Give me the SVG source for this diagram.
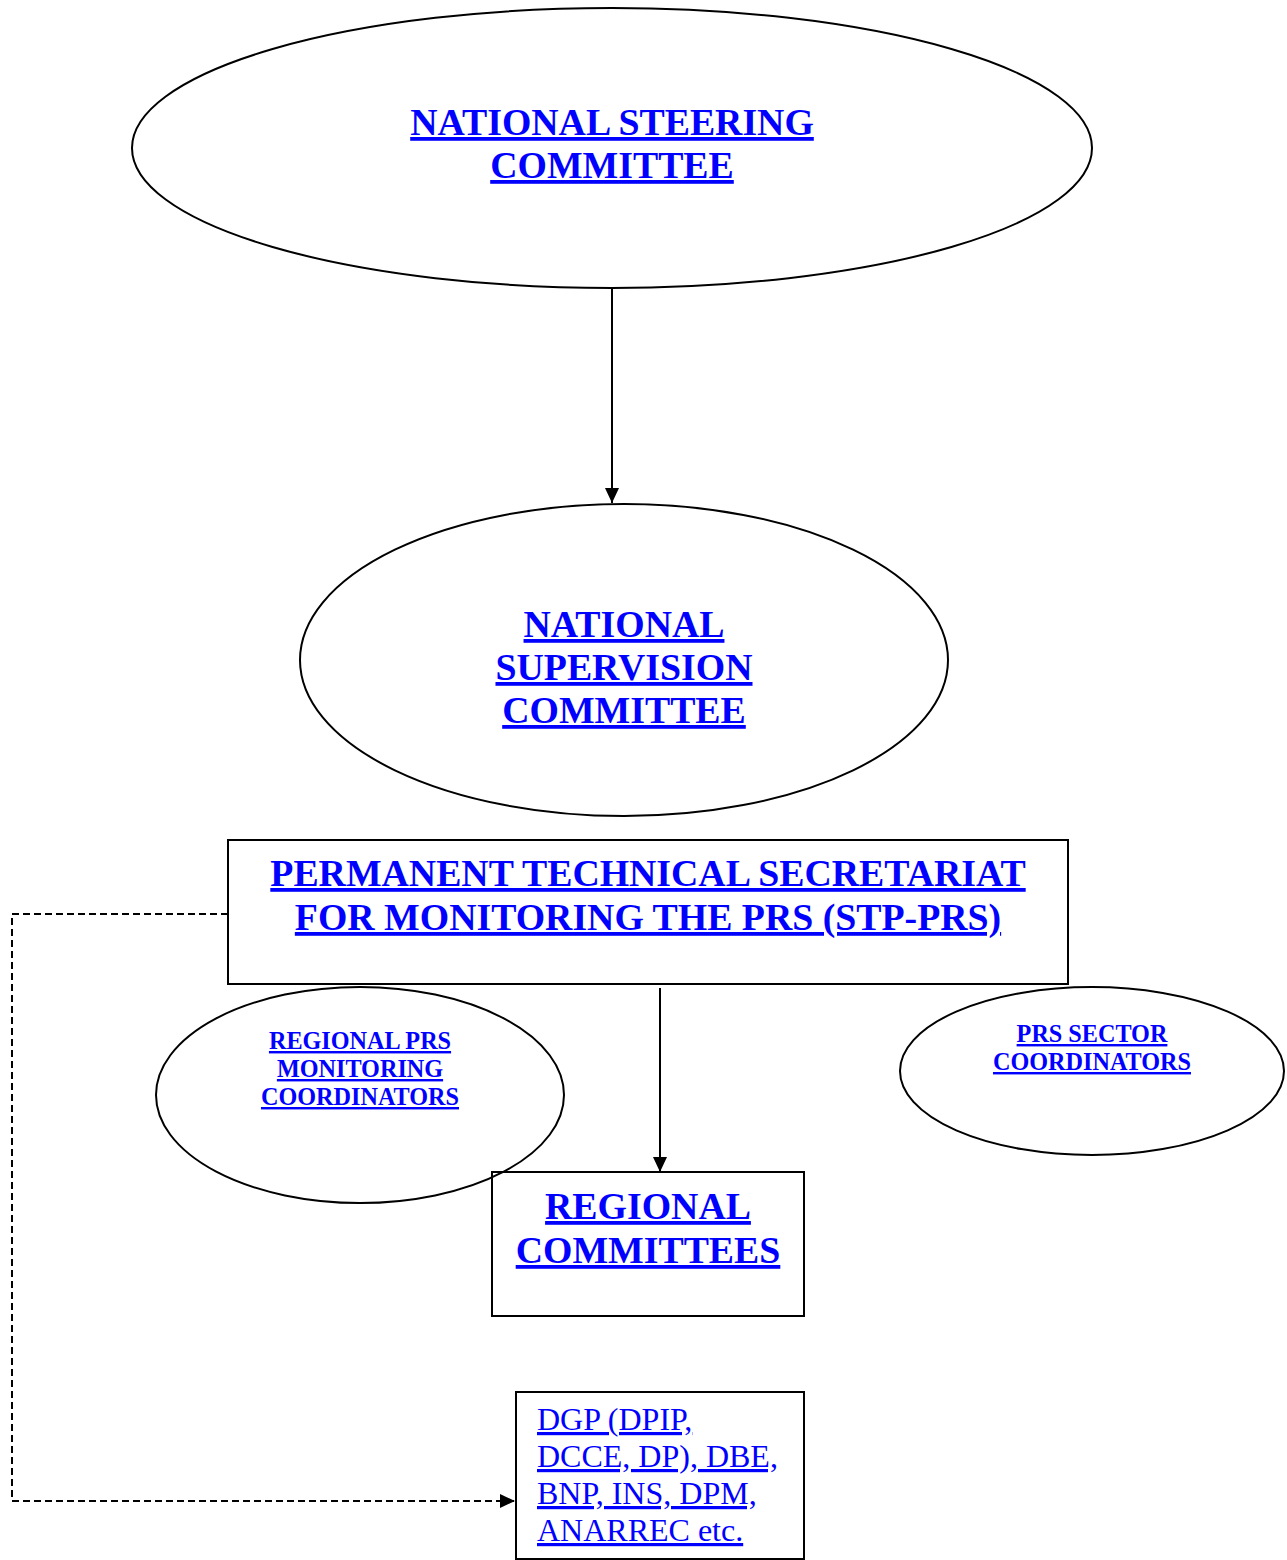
<svg xmlns="http://www.w3.org/2000/svg" width="1287" height="1560" viewBox="0 0 1287 1560">
<style>
.shape{fill:none;stroke:#000;stroke-width:2}
.b{font-family:"Liberation Serif","Times New Roman",serif;font-weight:bold;fill:#0000FF;text-decoration:underline;text-anchor:middle}
.big{font-size:37.8px}
.small{font-size:24.2px}
.r{font-family:"Liberation Serif","Times New Roman",serif;font-size:32px;fill:#0000FF;text-decoration:underline}
.conn{fill:none;stroke:#000;stroke-width:2}
.dash{fill:none;stroke:#000;stroke-width:2;stroke-dasharray:7 4}
</style>
<defs>
<marker id="arr" markerUnits="userSpaceOnUse" markerWidth="18" markerHeight="18" refX="15" refY="9" orient="auto">
<path d="M0,2 L15,9 L0,16 Z" fill="#000"/>
</marker>
</defs>
<rect width="1287" height="1560" fill="#fff"/>
<g id="connectors">
<line class="conn" x1="612" y1="288" x2="612" y2="503" marker-end="url(#arr)"/>
<line class="conn" x1="660" y1="988" x2="660" y2="1172" marker-end="url(#arr)"/>
<path class="dash" d="M228,914 H12 V1501 H515" marker-end="url(#arr)"/>
</g>
<g id="national-steering">
<ellipse class="shape" cx="612" cy="148" rx="480" ry="140"/>
<text class="b big" x="612" y="135">NATIONAL STEERING</text>
<text class="b big" x="612" y="178">COMMITTEE</text>
</g>
<g id="national-supervision">
<ellipse class="shape" cx="624" cy="660" rx="324" ry="156"/>
<text class="b big" x="624" y="637">NATIONAL</text>
<text class="b big" x="624" y="680">SUPERVISION</text>
<text class="b big" x="624" y="723">COMMITTEE</text>
</g>
<g id="stp-prs">
<rect class="shape" x="228" y="840" width="840" height="144"/>
<text class="b big" x="648" y="886">PERMANENT TECHNICAL SECRETARIAT</text>
<text class="b big" x="648" y="930">FOR MONITORING THE PRS (STP-PRS)</text>
</g>
<g id="regional-prs">
<ellipse class="shape" cx="360" cy="1095" rx="204" ry="108"/>
<text class="b small" x="360" y="1049">REGIONAL PRS</text>
<text class="b small" x="360" y="1077">MONITORING</text>
<text class="b small" x="360" y="1105">COORDINATORS</text>
</g>
<g id="prs-sector">
<ellipse class="shape" cx="1092" cy="1071" rx="192" ry="84"/>
<text class="b small" x="1092" y="1042">PRS SECTOR</text>
<text class="b small" x="1092" y="1070">COORDINATORS</text>
</g>
<g id="regional-committees">
<rect class="shape" x="492" y="1172" width="312" height="144"/>
<text class="b big" x="648" y="1219">REGIONAL</text>
<text class="b big" x="648" y="1263">COMMITTEES</text>
</g>
<g id="dgp">
<rect class="shape" x="516" y="1392" width="288" height="167"/>
<text class="r" x="537" y="1430">DGP (DPIP,</text>
<text class="r" x="537" y="1467">DCCE, DP), DBE,</text>
<text class="r" x="537" y="1504">BNP, INS, DPM,</text>
<text class="r" x="537" y="1541">ANARREC etc.</text>
</g>
</svg>
